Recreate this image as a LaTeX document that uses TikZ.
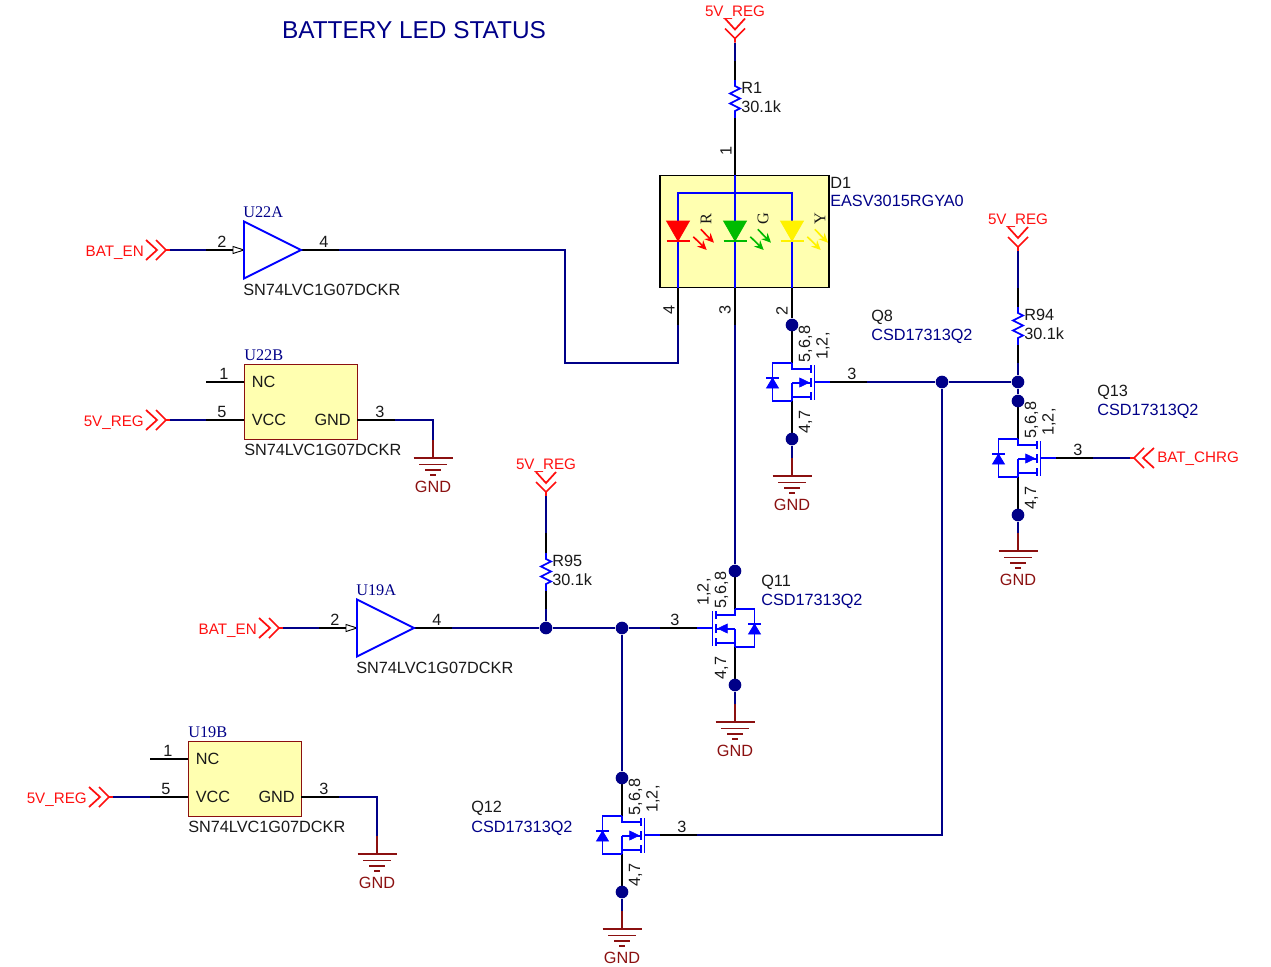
\documentclass[tikz,border=0pt]{standalone}
\usepackage{fontspec}
\setmainfont{Liberation Sans}
\newfontfamily\partserif{Liberation Serif}
\usetikzlibrary{arrows.meta}
\definecolor{netblue}{HTML}{000088}
\definecolor{symblue}{HTML}{0000FF}
\definecolor{gndred}{HTML}{8B1010}
\definecolor{portred}{HTML}{FF1010}
\definecolor{ledgreen}{HTML}{00BB00}
\definecolor{boxfill}{HTML}{FFFFB0}
\begin{document}
\begin{tikzpicture}[x=0.75pt, y=-0.75pt, every node/.style = {font=\fontsize{12.2}{14}\selectfont, inner sep=0pt, text=black!90}]
	\tikzset{
		wire/.style = {draw=netblue, line width=1.3pt},
		pin/.style = {draw=black, line width=1.3pt},
		thickpin/.style = {draw=black, line width=1.7pt},
		sym/.style = {draw=symblue, line width=1.25pt},
		dot/.style = {circle, fill=netblue, minimum size=9.5pt},
		chip/.style = {draw=gndred, fill=boxfill, line width=0.6pt},
		bluename/.style = {text=netblue, anchor=west},
		portname/.style = {text=portred, font=\fontsize{11.4}{14}\selectfont},
		serifname/.style = {text=netblue, font=\partserif\fontsize{12.2}{14}\selectfont, anchor=west},
		pics/port/.style = {code={
			\draw[draw=portred, line width=1.3pt] (-20,-10) -- (-9,0) -- (-20,10) (-10,-10) -- (0,0) -- (-10,10) (0,0) -- (4,0);
			\coordinate (-end) at (4,0);
		}},
		pics/ground/.style = {code={
			\draw[draw=gndred, line width=1.3pt] (0,-18) -- (0,0) (-19.5,0) -- (19.5,0) (-14,6.5) -- (14,6.5) (-8,12) -- (8,12) (-3,17) -- (3,17);
			\coordinate (-stem) at (0,-18);
			\node[text=gndred] (-name) at (0,28.5) {GND};
		}},
		pics/resistor/.style = {code={
			\draw[sym] (0,0) -- (0,6) -- (5,8.5) -- (-5,13.5) -- (5,18.5) -- (-5,23.5) -- (5,28.5) -- (0,31) -- (0,38);
			\coordinate (-top) at (0,0);
			\coordinate (-bot) at (0,38);
			\node[anchor=west] (-name) at (6,8) {#1};
			\node[anchor=west] (-value) at (6,27) {30.1k};
		}},
		pics/buffer/.style = {code={
			\draw[pin] (-38,0) -- (-11,0) (57,0) -- (95,0);
			\draw[pin, fill=white, line width=0.7pt] (-11,-3.5) -- (0,0) -- (-11,3.5) -- cycle;
			\draw[sym, line width=1.4pt, fill=white] (0,-28.5) -- (57,0) -- (0,28.5) -- cycle;
			\coordinate (-in) at (-38,0);
			\coordinate (-out) at (95,0);
			\node (-p2) at (-22,-8) {2};
			\node (-p4) at (80,-8) {4};
			\node[serifname] (-name) at (-1,-38) {#1};
			\node[anchor=west] (-part) at (-1,40) {SN74LVC1G07DCKR};
		}},
		pics/supply/.style = {code={
			\draw[chip] (0,0) rectangle (113,75);
			\draw[pin] (-38,18) -- (0,18) (-38,56) -- (0,56) (113,56) -- (151,56);
			\coordinate (-vcc) at (-38,56);
			\coordinate (-gnd) at (151,56);
			\node (-p1) at (-20,10) {1};
			\node (-p5) at (-22,48) {5};
			\node (-p3) at (136,48) {3};
			\node[anchor=west] (-nc) at (7.5,18) {NC};
			\node[anchor=west] (-vccname) at (7.5,56) {VCC};
			\node[anchor=east] (-gndname) at (107,56) {GND};
			\node[serifname] (-name) at (0,-8.5) {#1};
			\node[anchor=west] (-part) at (0,85.5) {SN74LVC1G07DCKR};
		}},
		pics/mosfet/.style = {code={
			\draw[thickpin] (0,0) -- (0,38) (0,76) -- (0,114);
			\draw[pin] (38,57) -- (75,57);
			\draw[sym] (0,38) -- (0,44) -- (19,44) (0,58) -- (0,76) (0,72) -- (19,72) (0,58) -- (19,58);
			\draw[sym] (19,40) -- (19,48) (19,53) -- (19,62) (19,67) -- (19,75) (22.5,40) -- (22.5,75) (22.5,57) -- (38,57);
			\draw[sym] (0,38) -- (-19.5,38) -- (-19.5,76) -- (0,76);
			\draw[sym, fill=symblue, line width=0.5pt] (7.7,53) -- (17,57.5) -- (7.7,62) -- cycle;
			\draw[sym, fill=symblue, line width=0.5pt] (-25.5,63) -- (-19.5,53) -- (-13.5,63) -- cycle;
			\draw[sym] (-26,53) -- (-13,53);
			\coordinate (-gate) at (75,57);
			\node[dot] (-top) at (0,0) {};
			\node[dot] (-bot) at (0,114) {};
			\node[rotate=90] (-drain) at (13.5,19) {5,6,8};
			\node[rotate=90] (-gatepins) at (31,21) {1,2,};
			\node[rotate=90] (-source) at (13.5,97) {4,7};
			\node (-p3) at (60,49) {3};
		}},
		pics/led/.style n args = {2}{code={
			\draw[draw=#1, fill=#1, line width=0.5pt] (-11.5,0) -- (11.5,0) -- (0,20) -- cycle;
			\draw[draw=#1, line width=1.3pt] (-11.5,20) -- (11.5,20);
			\draw[draw=#1, line width=1.2pt, -{Stealth[length=7pt,width=6.5pt]}] (22.7,8.3) -- (36,21.7);
			\draw[draw=#1, line width=1.2pt, -{Stealth[length=7pt,width=6.5pt]}] (15.3,15.7) -- (28.7,29);
			\node[rotate=90, font=\partserif\fontsize{12.2}{14}\selectfont] (-letter) at (28,-2) {#2};
		}}
	}
	\useasboundingbox (0,0) rectangle (1271,967);
	\node[text=netblue, font=\fontsize{18.3}{20}\selectfont] (title) at (414,30) {BATTERY LED STATUS};
	\node[draw=black, fill=boxfill, line width=1.4pt, minimum width=127pt, minimum height=84pt] (d1) at (744.5,231.5) {};
	\coordinate (ledgtop) at (735,175);
	\coordinate (ledrbot) at (678,288);
	\coordinate (ledgbot) at (735,288);
	\coordinate (ledybot) at (792,288);
	\coordinate (railr) at (678,193);
	\coordinate (raily) at (792,193);
	\draw[sym] (ledgtop) -- (ledgbot);
	\draw[sym] (ledrbot) -- (railr) -- (raily) -- (ledybot);
	\pic (ledr) at (678,221) {led={red}{R}};
	\pic (ledg) at (735,221) {led={ledgreen}{G}};
	\pic (ledy) at (792,221) {led={yellow}{Y}};
	\node[anchor=west] (d1name) at (830,183) {D1};
	\node[bluename] (d1part) at (830,201) {EASV3015RGYA0};
	\pic[rotate=-90] (port1) at (735,38.5) {port};
	\node[portname] (port1name) at (735,13) {5V\_REG};
	\pic (r1) at (735,80) {resistor=R1};
	\coordinate (r1wire) at (735,61);
	\draw[wire] (port1-end) -- (r1wire);
	\draw[pin] (r1wire) -- (r1-top);
	\draw[pin] (r1-bot) -- (ledgtop);
	\node[rotate=90] (d1p1) at (726,151) {1};
	\pic (u22a) at (244,250) {buffer=U22A};
	\pic (port2) at (166,250) {port};
	\node[portname, anchor=east] (port2name) at (144,253) {BAT\_EN};
	\draw[wire] (port2-end) -- (u22a-in);
	\coordinate (redpin) at (678,325);
	\coordinate (redturn) at (678,363);
	\coordinate (enturn) at (565,363);
	\coordinate (enturnb) at (565,250);
	\draw[pin] (ledrbot) -- (redpin);
	\draw[wire] (redpin) -- (redturn) -- (enturn) -- (enturnb) -- (u22a-out);
	\node[rotate=90] (d1p4) at (669,310) {4};
	\pic (u22b) at (244,364) {supply=U22B};
	\pic (port3) at (166,420) {port};
	\node[portname, anchor=east] (port3name) at (144,423) {5V\_REG};
	\draw[wire] (port3-end) -- (u22b-vcc);
	\pic (gnd1) at (433,458) {ground};
	\coordinate (gnd1turn) at (433,420);
	\draw[wire] (u22b-gnd) -- (gnd1turn) -- (gnd1-stem);
	\pic (q8) at (792,325) {mosfet};
	\draw[pin] (ledybot) -- (q8-top);
	\node[rotate=90] (d1p2) at (782,311) {2};
	\node[anchor=west] (q8name) at (871,317) {Q8};
	\node[bluename] (q8part) at (871,336) {CSD17313Q2};
	\pic (gnd2) at (792,476) {ground};
	\draw[wire] (q8-bot) -- (gnd2-stem);
	\node[dot] (jgate) at (942,382) {};
	\node[dot] (jr94) at (1018,382) {};
	\draw[wire] (q8-gate) -- (jgate) -- (jr94);
	\pic[rotate=-90] (port4) at (1018,247) {port};
	\node[portname] (port4name) at (1018,221) {5V\_REG};
	\pic (r94) at (1018,307) {resistor=R94};
	\coordinate (r94wire) at (1018,288);
	\coordinate (r94low) at (1018,363);
	\draw[wire] (port4-end) -- (r94wire);
	\draw[pin] (r94wire) -- (r94-top);
	\draw[pin] (r94-bot) -- (r94low);
	\draw[wire] (r94low) -- (jr94);
	\pic (q13) at (1018,401) {mosfet};
	\draw[wire] (jr94) -- (q13-top);
	\node[anchor=west] (q13name) at (1097,392) {Q13};
	\node[bluename] (q13part) at (1097,411) {CSD17313Q2};
	\pic[rotate=180] (port5) at (1134,458) {port};
	\node[portname, anchor=west] (port5name) at (1157,459) {BAT\_CHRG};
	\draw[wire] (q13-gate) -- (port5-end);
	\pic (gnd3) at (1018,551) {ground};
	\draw[wire] (q13-bot) -- (gnd3-stem);
	\pic[rotate=-90] (port6) at (546,492) {port};
	\node[portname] (port6name) at (546,466) {5V\_REG};
	\pic (r95) at (546,553) {resistor=R95};
	\coordinate (r95wire) at (546,533);
	\coordinate (r95low) at (546,609);
	\node[dot] (jr95) at (546,628) {};
	\node[dot] (jq12) at (622,628) {};
	\draw[wire] (port6-end) -- (r95wire);
	\draw[pin] (r95wire) -- (r95-top);
	\draw[pin] (r95-bot) -- (r95low);
	\draw[wire] (r95low) -- (jr95);
	\pic (u19a) at (357,628) {buffer=U19A};
	\pic (port7) at (279,628) {port};
	\node[portname, anchor=east] (port7name) at (257,630.5) {BAT\_EN};
	\draw[wire] (port7-end) -- (u19a-in);
	\pic[xscale=-1] (q11) at (735,571) {mosfet};
	\coordinate (greenpin) at (735,325);
	\draw[pin] (ledgbot) -- (greenpin);
	\draw[wire] (greenpin) -- (q11-top);
	\node[rotate=90] (d1p3) at (725,310) {3};
	\node[anchor=west] (q11name) at (761,582) {Q11};
	\node[bluename] (q11part) at (761,601) {CSD17313Q2};
	\draw[wire] (u19a-out) -- (jr95) -- (jq12) -- (q11-gate);
	\pic (gnd4) at (735,722) {ground};
	\draw[wire] (q11-bot) -- (gnd4-stem);
	\pic (q12) at (622,778) {mosfet};
	\draw[wire] (jq12) -- (q12-top);
	\coordinate (q12turn) at (942,835);
	\draw[wire] (q12-gate) -- (q12turn) -- (jgate);
	\node[anchor=west] (q12name) at (471,808) {Q12};
	\node[bluename] (q12part) at (471,828) {CSD17313Q2};
	\pic (gnd5) at (622,929) {ground};
	\draw[wire] (q12-bot) -- (gnd5-stem);
	\pic (u19b) at (188,741) {supply=U19B};
	\pic (port8) at (109,797) {port};
	\node[portname, anchor=east] (port8name) at (87,800) {5V\_REG};
	\draw[wire] (port8-end) -- (u19b-vcc);
	\pic (gnd6) at (377,854) {ground};
	\coordinate (gnd6turn) at (377,797);
	\draw[wire] (u19b-gnd) -- (gnd6turn) -- (gnd6-stem);
\end{tikzpicture}
\end{document}
